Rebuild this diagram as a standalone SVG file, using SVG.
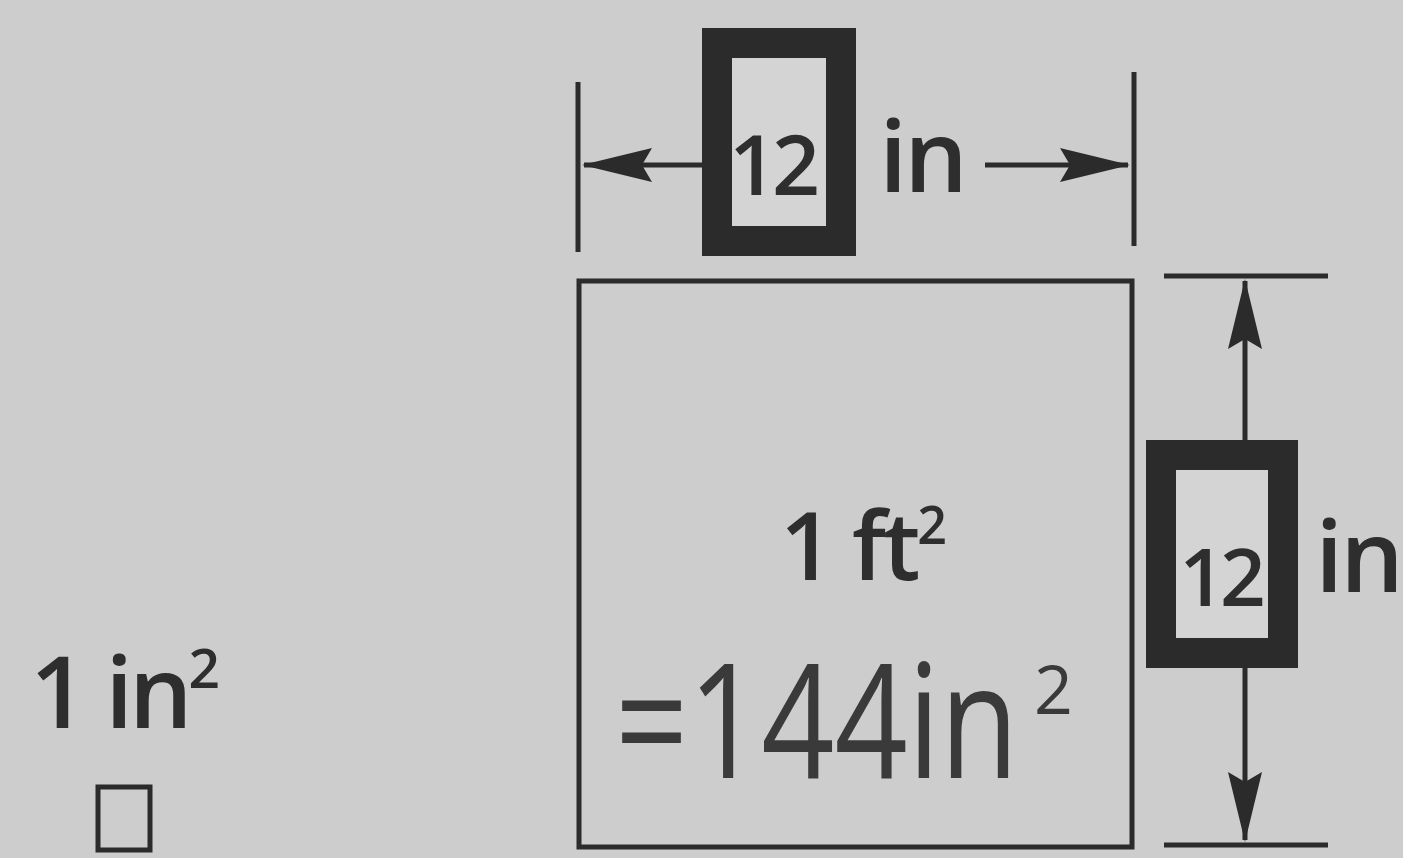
<svg xmlns="http://www.w3.org/2000/svg" width="1403" height="858" viewBox="0 0 1403 858">
<style>
.bg{fill:#cdcdcd}
.ln{stroke:#2b2b2b;stroke-width:5;fill:none}
.dim{stroke:#2b2b2b;stroke-width:5;fill:none;marker-end:url(#ah)}
.box{fill:#d4d4d4;stroke:#2b2b2b;stroke-width:30}
.pt{font-family:"Open Sans","Liberation Sans",sans-serif;font-weight:600;fill:#2e2e2e}
.hw{font-family:"Open Sans","DejaVu Sans",sans-serif;font-weight:400;fill:#3a3a3a}
</style>
<defs>
<marker id="ah" markerUnits="userSpaceOnUse" viewBox="0 -20 70 40" refX="68" refY="0" markerWidth="70" markerHeight="40" orient="auto">
<path d="M0,-17 L70,0 L0,17 L10,0 z" fill="#2b2b2b"/>
</marker>
</defs>
<rect class="bg" x="0" y="0" width="1403" height="858"/>
<g id="connectors">
<line class="ln" x1="578" y1="82" x2="578" y2="252"/>
<line class="ln" x1="1134" y1="72" x2="1134" y2="246"/>
<line class="dim" x1="702" y1="165" x2="584" y2="165"/>
<line class="dim" x1="985" y1="165" x2="1128" y2="165"/>
<line class="ln" x1="1164" y1="276" x2="1328" y2="276"/>
<line class="ln" x1="1164" y1="845" x2="1328" y2="845"/>
<line class="dim" x1="1245" y1="440" x2="1245" y2="281"/>
<line class="dim" x1="1245" y1="668" x2="1245" y2="840"/>
</g>
<g id="top-label">
<rect class="box" x="717" y="43" width="124" height="198"/>
<text class="pt" x="772" y="195" font-size="84" text-anchor="middle" letter-spacing="-5">12</text>
<text class="pt" x="922" y="192" font-size="100" text-anchor="middle" letter-spacing="-3">in</text>
</g>
<g id="square-ft">
<rect class="ln" x="579" y="281" width="553" height="566"/>
<text class="pt" x="862" y="580" font-size="94" text-anchor="middle" letter-spacing="-3">1 ft<tspan font-size="52" dy="-36">2</tspan></text>
<text class="hw" transform="translate(615,778) scale(1,1.25)" x="0" y="0" font-size="128">=144in</text>
<text class="hw" x="1034" y="714" font-size="68">2</text>
</g>
<g id="right-label">
<rect class="box" x="1161" y="455" width="122" height="198"/>
<text class="pt" x="1220" y="606" font-size="80" text-anchor="middle" letter-spacing="-5">12</text>
<text class="pt" x="1358" y="592" font-size="100" text-anchor="middle" letter-spacing="-3">in</text>
</g>
<g id="square-in">
<text class="pt" x="30" y="728" font-size="100" letter-spacing="-4">1 in<tspan font-size="55" dy="-40">2</tspan></text>
<rect class="ln" x="98" y="787" width="52" height="63" stroke-width="7"/>
</g>
</svg>
